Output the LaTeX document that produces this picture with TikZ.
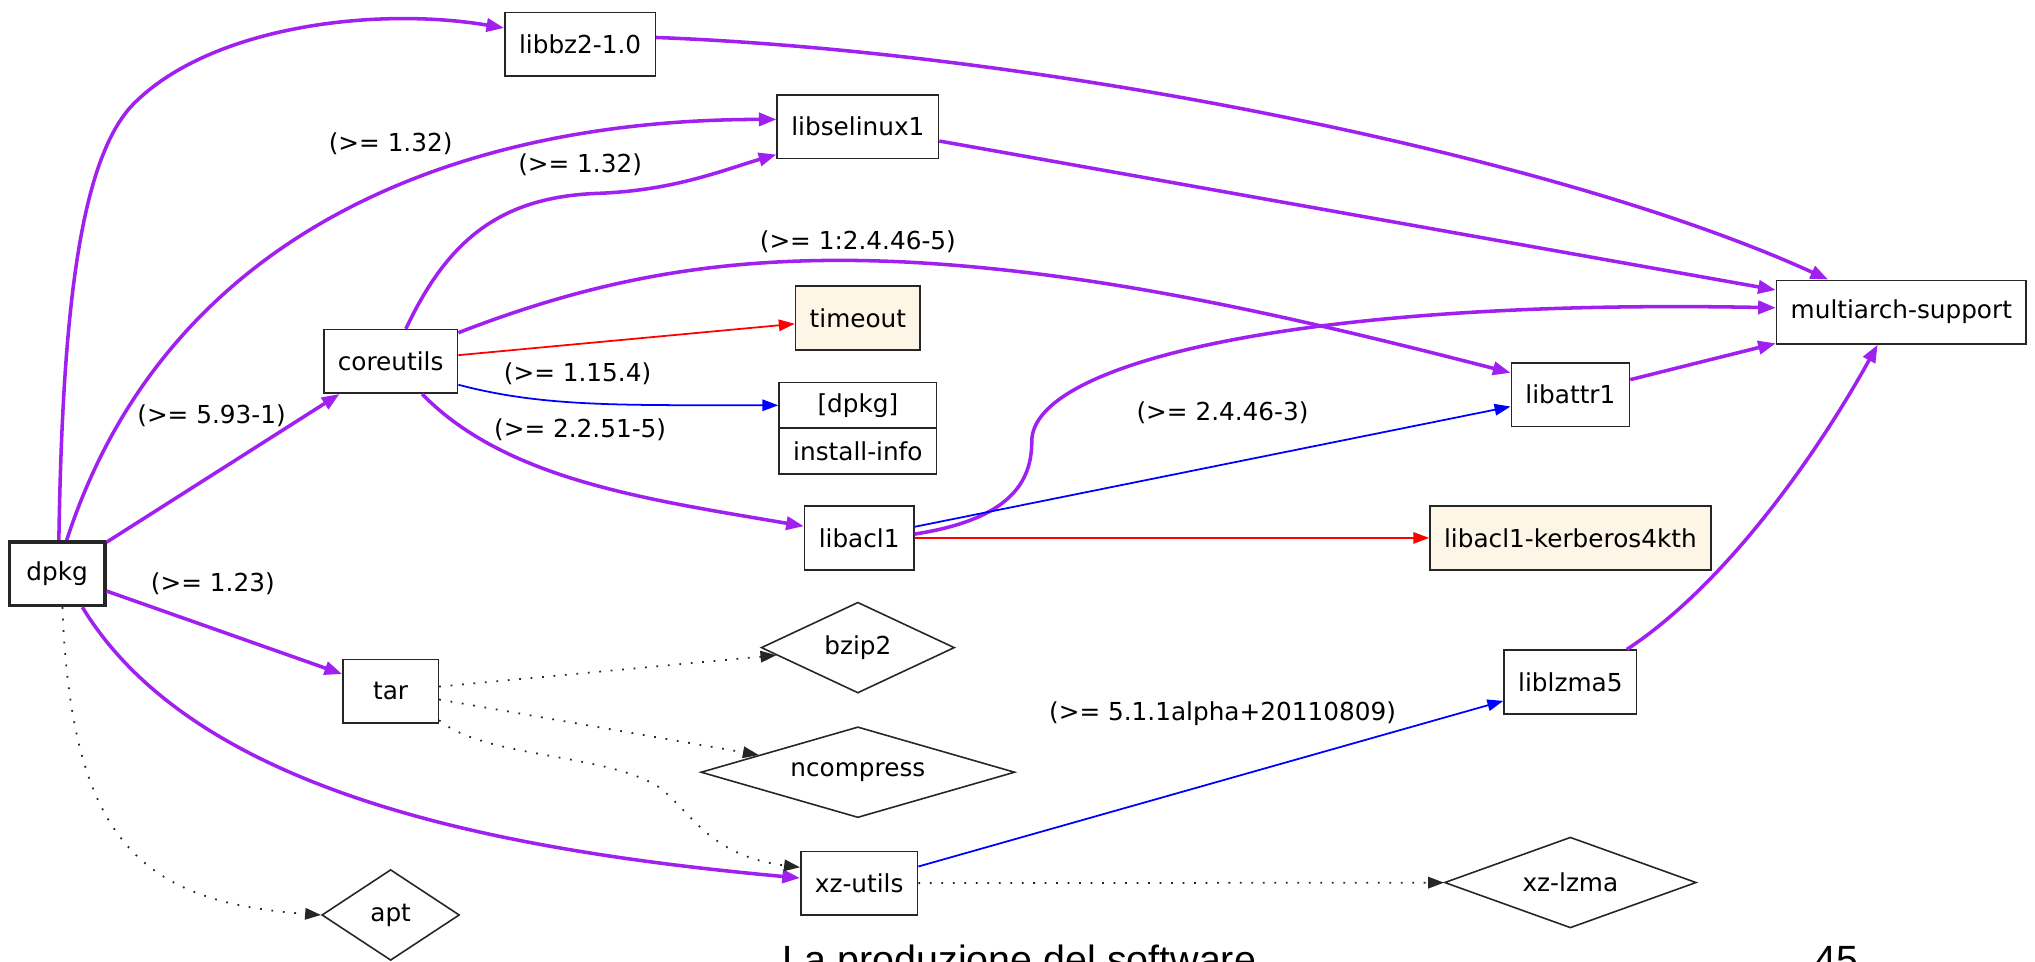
\documentclass[tikz,border=0pt]{standalone}
\usepackage{fontspec}
\setmainfont{DejaVu Sans}
\newfontfamily\slidefont{Liberation Sans}
\usepackage{tikz}
\usetikzlibrary{arrows.meta,shapes.geometric}
\definecolor{deppurple}{RGB}{160,32,240}
\definecolor{oldlace}{RGB}{253,245,230}
\newcommand\pkgfont{\fontsize{14}{16}\selectfont}
\tikzset{
	pkg/.style={
		draw=black!85, line width=0.9pt, rectangle,
		minimum width=54pt, minimum height=36pt,
		inner xsep=8pt, font=\pkgfont
	},
	missing/.style={pkg, fill=oldlace},
	virtual/.style={
		draw=black!85, line width=0.9pt, diamond,
		minimum height=51.4pt, inner sep=0pt, font=\pkgfont
	},
	version/.style={font=\pkgfont, inner sep=0pt},
	depends/.style={deppurple, line width=2pt, -{Triangle[length=10pt,width=7.5pt]}},
	predepends/.style={blue, line width=1pt, -{Triangle[length=9pt,width=6.5pt]}},
	conflicts/.style={red, line width=1pt, -{Triangle[length=9pt,width=6.5pt]}},
	recommends/.style={black!85, line width=1pt, dash pattern=on 1pt off 5.5pt, -{Triangle[length=9pt,width=6.5pt]}}
}

\begin{document}
\begin{tikzpicture}[x=0.7345pt, y=-0.7345pt]
	\useasboundingbox (0,0) rectangle (1568,741);
	\clip (0,0) rectangle (1568,741);

	\node[pkg, line width=2pt] (dpkg) at (44,442) {dpkg};
	\node[pkg] (libbz) at (447,34) {libbz2-1.0};
	\node[pkg] (libsel) at (661,97.5) {libselinux1};
	\node[pkg] (multi) at (1465,240.5) {multiarch-support};
	\node[pkg] (core) at (301,278.5) {coreutils};
	\node[missing] (timeout) at (661,245) {timeout};
	\node[pkg, minimum width=89.2pt, minimum height=26pt] (dpkgfld) at (661,312.3) {[dpkg]};
	\node[pkg, minimum width=89.2pt, minimum height=26pt] (instinfo) at (661,347.7) {install-info};
	\node[pkg] (libattr) at (1210,304) {libattr1};
	\node[pkg] (libacl) at (662,414.5) {libacl1};
	\node[missing] (kerb) at (1210,414.5) {libacl1-kerberos4kth};
	\node[pkg] (tar) at (301,532.5) {tar};
	\node[pkg] (liblzma) at (1210,525.5) {liblzma5};
	\node[pkg] (xz) at (662,680.5) {xz-utils};
	\node[virtual, aspect=2.13, minimum width=109.4pt] (bzip) at (661,499) {bzip2};
	\node[virtual, aspect=3.46, minimum width=177.7pt] (ncomp) at (661,595) {ncompress};
	\node[virtual, aspect=2.77, minimum width=142.5pt] (xzlzma) at (1210,680) {xz-lzma};
	\node[virtual, aspect=1.52, minimum width=77.9pt] (apt) at (301,705) {apt};

	\node[version] (vsel) at (301,111) {(>= 1.32)};
	\node[version] (vselcore) at (447,127) {(>= 1.32)};
	\node[version] (vattr) at (661,186) {(>= 1:2.4.46-5)};
	\node[version] (vinfo) at (445,288) {(>= 1.15.4)};
	\node[version] (vacl) at (447,331) {(>= 2.2.51-5)};
	\node[version] (vcore) at (163,320) {(>= 5.93-1)};
	\node[version] (vtar) at (164,450) {(>= 1.23)};
	\node[version] (vattracl) at (942,318) {(>= 2.4.46-3)};
	\node[version] (vlzma) at (942,550) {(>= 5.1.1alpha+20110809)};

	\draw[depends] (dpkg.87) .. controls (48,250) and (60,120) .. (105,78) .. controls (165,20) and (290,5) .. (libbz.168);
	\draw[depends] (dpkg.74) .. controls (128,180) and (350,92) .. (libsel.175);
	\draw[depends] (dpkg) -- (core);
	\draw[depends] (dpkg) -- (tar);
	\draw[depends] (dpkg.-53) .. controls (150,610) and (380,655) .. (xz.175);
	\draw[recommends] (dpkg.-81) .. controls (55,650) and (110,695) .. (apt.west);
	\draw[depends] (core.65) .. controls (345,185) and (385,152) .. (460,149) .. controls (520,147) and (560,130) .. (libsel.199);
	\draw[depends] (core.23) .. controls (460,215) and (560,195) .. (700,202) .. controls (850,210) and (1000,245) .. (libattr.160);
	\draw[conflicts] (core) -- (timeout);
	\draw[predepends] (core.-19) .. controls (420,314) and (480,312) .. (dpkgfld.west);
	\draw[depends] (core.-46) .. controls (390,370) and (500,385) .. (libacl.168);
	\draw[depends] (libbz.5) .. controls (800,40) and (1200,120) .. (multi.156);
	\draw[depends] (libsel) -- (multi);
	\draw[depends] (libacl.4) .. controls (780,400) and (795,370) .. (795,340) .. controls (795,280) and (1000,230) .. (multi.178);
	\draw[predepends] (libacl) -- (libattr);
	\draw[conflicts] (libacl) -- (kerb);
	\draw[depends] (libattr) -- (multi);
	\draw[depends] (liblzma.30) .. controls (1330,450) and (1400,350) .. (multi.-126);
	\draw[predepends] (xz) -- (liblzma);
	\draw[recommends] (xz) -- (xzlzma);
	\draw[recommends] (tar) -- (bzip);
	\draw[recommends] (tar) -- (ncomp);
	\draw[recommends] (tar.-31) .. controls (375,585) and (470,580) .. (510,608) .. controls (535,630) and (550,660) .. (xz.165);

	\node[anchor=base west, inner sep=0pt, font=\slidefont\fontsize{22.3}{26}\selectfont] (title) at (603,749.8) {La produzione del software};
	\node[anchor=base west, inner sep=0pt, font=\slidefont\fontsize{22.3}{26}\selectfont] (pageno) at (1398,749.8) {45};
\end{tikzpicture}
\end{document}
